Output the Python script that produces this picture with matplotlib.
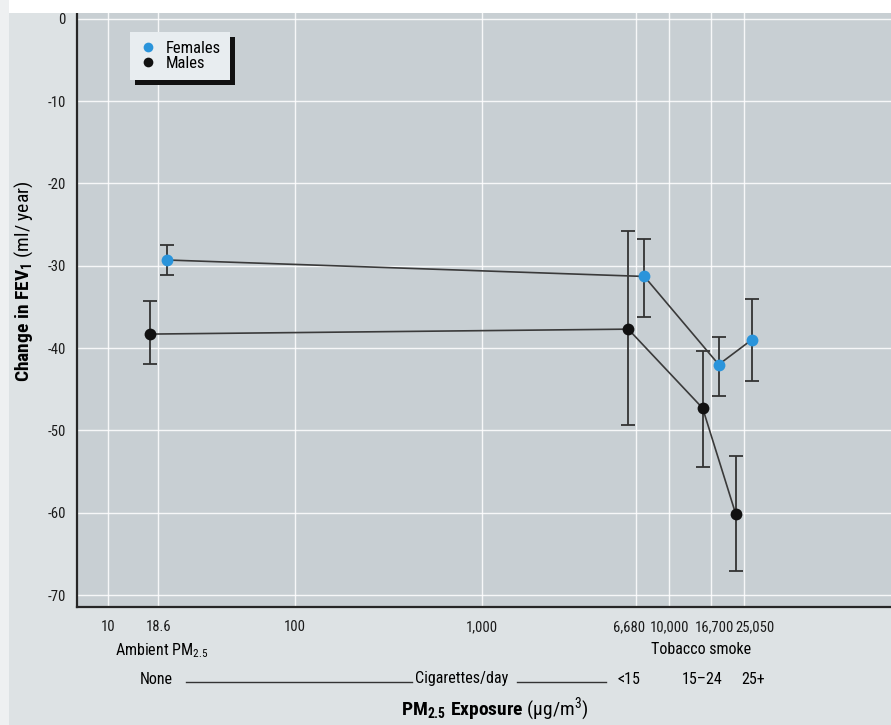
import matplotlib
matplotlib.use('Agg')
import matplotlib.pyplot as plt
from matplotlib.lines import Line2D
from matplotlib.patches import Rectangle
from matplotlib.ticker import NullLocator, FixedLocator, FixedFormatter
from matplotlib.transforms import ScaledTranslation

plt.rcParams['font.family'] = ['Roboto Condensed', 'DejaVu Sans']
plt.rcParams['mathtext.fontset'] = 'custom'
plt.rcParams['mathtext.rm'] = 'Roboto Condensed'
plt.rcParams['mathtext.bf'] = 'Roboto Condensed:bold'
plt.rcParams['mathtext.it'] = 'Roboto Condensed:italic'
plt.rcParams['mathtext.default'] = 'regular'

# ---- data ----
exposure = [18.6, 6680, 16700, 25050]
females_mean = [-29.3, -31.3, -42.0, -39.0]
females_hi = [-27.5, -26.7, -38.6, -34.0]
females_lo = [-31.1, -36.2, -45.8, -44.0]
males_mean = [-38.3, -37.7, -47.3, -60.1]
males_hi = [-34.3, -25.8, -40.3, -53.1]
males_lo = [-41.9, -49.3, -54.4, -67.1]
series_names = ['Females', 'Males']
xtick_values = [10, 18.6, 100, 1000, 6680, 10000, 16700, 25050]
xtick_labels = ['10', '18.6', '100', '1,000', '6,680', '10,000', '16,700', '25,050']
ytick_values = [0, -10, -20, -30, -40, -50, -60, -70]
cig_labels = ['<15', '15\u201324', '25+']

# ---- style ----
W, H = 891, 725
BG_FIG = '#dde2e4'
BG_AX = '#c8cfd3'
DARK = '#262626'
BLUE = '#2a94db'
DODGE = 1.104  # horizontal dodge factor on log axis
XLABEL_SHIFT_PX = [0, 0, 0, 0, -7, 1, 4, 11]

def fx(px):
    return px / W

def fy(py):
    return 1 - py / H

fig = plt.figure(figsize=(W / 100, H / 100), dpi=100, facecolor=BG_FIG)
fig.patches.append(Rectangle((0, fy(13)), 1, 13 / H, transform=fig.transFigure,
                             facecolor='white', edgecolor='none', zorder=0))
fig.patches.append(Rectangle((0, 0), fx(9), 1, transform=fig.transFigure,
                             facecolor='#eef0f1', edgecolor='none', zorder=0))

ax = fig.add_axes([fx(77), fy(607), fx(891 - 77), (607 - 13) / H])
ax.set_facecolor(BG_AX)
ax.set_xscale('log')
ax.set_xlim(6.82, 1.538e5)
ax.set_ylim(-71.45, 0.7)

ax.xaxis.set_major_locator(FixedLocator(xtick_values))
ax.xaxis.set_major_formatter(FixedFormatter(xtick_labels))
ax.xaxis.set_minor_locator(NullLocator())
ax.set_yticks(ytick_values)
ax.set_yticklabels([str(v) for v in ytick_values])
ax.tick_params(axis='both', length=0, labelsize=10.5, colors='#1a1a1a')
ax.tick_params(axis='y', pad=8)
ax.tick_params(axis='x', pad=9.5)
for lab, dx in zip(ax.get_xticklabels(), XLABEL_SHIFT_PX):
    lab.set_transform(lab.get_transform() + ScaledTranslation(dx / 100, 0, fig.dpi_scale_trans))

ax.grid(True, color='white', lw=1.0, alpha=0.85)
ax.set_axisbelow(True)
for s in ['top', 'right']:
    ax.spines[s].set_visible(False)
for s in ['left', 'bottom']:
    ax.spines[s].set_color(DARK)
    ax.spines[s].set_linewidth(1.6)

x_f = [v * DODGE for v in exposure]
x_m = [v / DODGE for v in exposure]

for xs, mean, hi, lo, col in [(x_f, females_mean, females_hi, females_lo, BLUE),
                              (x_m, males_mean, males_hi, males_lo, '#111111')]:
    yerr = [[m - l for m, l in zip(mean, lo)], [h - m for m, h in zip(mean, hi)]]
    ax.errorbar(xs, mean, yerr=yerr, fmt='none', ecolor='#333333', elinewidth=1.3,
                capsize=5, capthick=1.3, zorder=2)
    ax.plot(xs, mean, '-', color='#3a3a3a', lw=1.2, zorder=3)
    ax.plot(xs, mean, 'o', color=col, ms=8.5, mec='none', zorder=4)

handles = [Line2D([], [], marker='o', ls='none', color=BLUE, ms=7, mec='none'),
           Line2D([], [], marker='o', ls='none', color='#111111', ms=7, mec='none')]
leg = ax.legend(handles, series_names, loc='upper left', bbox_to_anchor=(fx(130), fy(32)),
                bbox_transform=fig.transFigure, borderaxespad=0, frameon=True,
                fancybox=False, facecolor='#e8edf0', edgecolor='none', framealpha=1,
                fontsize=12, handlelength=1.0, handletextpad=0.6, labelspacing=0.0,
                borderpad=0.55)
leg.set_zorder(6)
fig.canvas.draw()
bb = leg.get_window_extent()
shadow = Rectangle((bb.x0 + 5, bb.y0 - 5), bb.width, bb.height, transform=None,
                   facecolor='#111111', edgecolor='none', zorder=5.5, clip_on=False)
ax.add_artist(shadow)

# ---- lower annotations ----
fs = 11.5
fig.text(fx(115), fy(651), 'Ambient PM$_{2.5}$', ha='left', va='center', fontsize=fs)
fig.text(fx(701), fy(650), 'Tobacco smoke', ha='center', va='center', fontsize=fs)
fig.text(fx(156), fy(679), 'None', ha='center', va='center', fontsize=fs)
fig.add_artist(Line2D([fx(186), fx(412)], [fy(682), fy(682)], color='#333333', lw=1.0))
fig.text(fx(415), fy(679), 'Cigarettes/day', ha='left', va='center', fontsize=fs)
fig.add_artist(Line2D([fx(517), fx(606)], [fy(682), fy(682)], color='#333333', lw=1.0))
for lab, px in zip(cig_labels, [629, 702, 753]):
    fig.text(fx(px), fy(679), lab, ha='center', va='center', fontsize=fs)

fig.text(fx(495), fy(709), r'$\mathbf{PM_{2.5}\ Exposure}$ (' + '\u00b5' + r'g/m$^{3}$)',
         ha='center', va='center', fontsize=14)

fig.text(fx(24), fy(281), r'$\mathbf{Change\ in\ FEV_{1}}$ (ml/ year)', rotation=90,
         ha='center', va='center', fontsize=14)

fig.savefig('out.png', dpi=100, facecolor=fig.get_facecolor())
